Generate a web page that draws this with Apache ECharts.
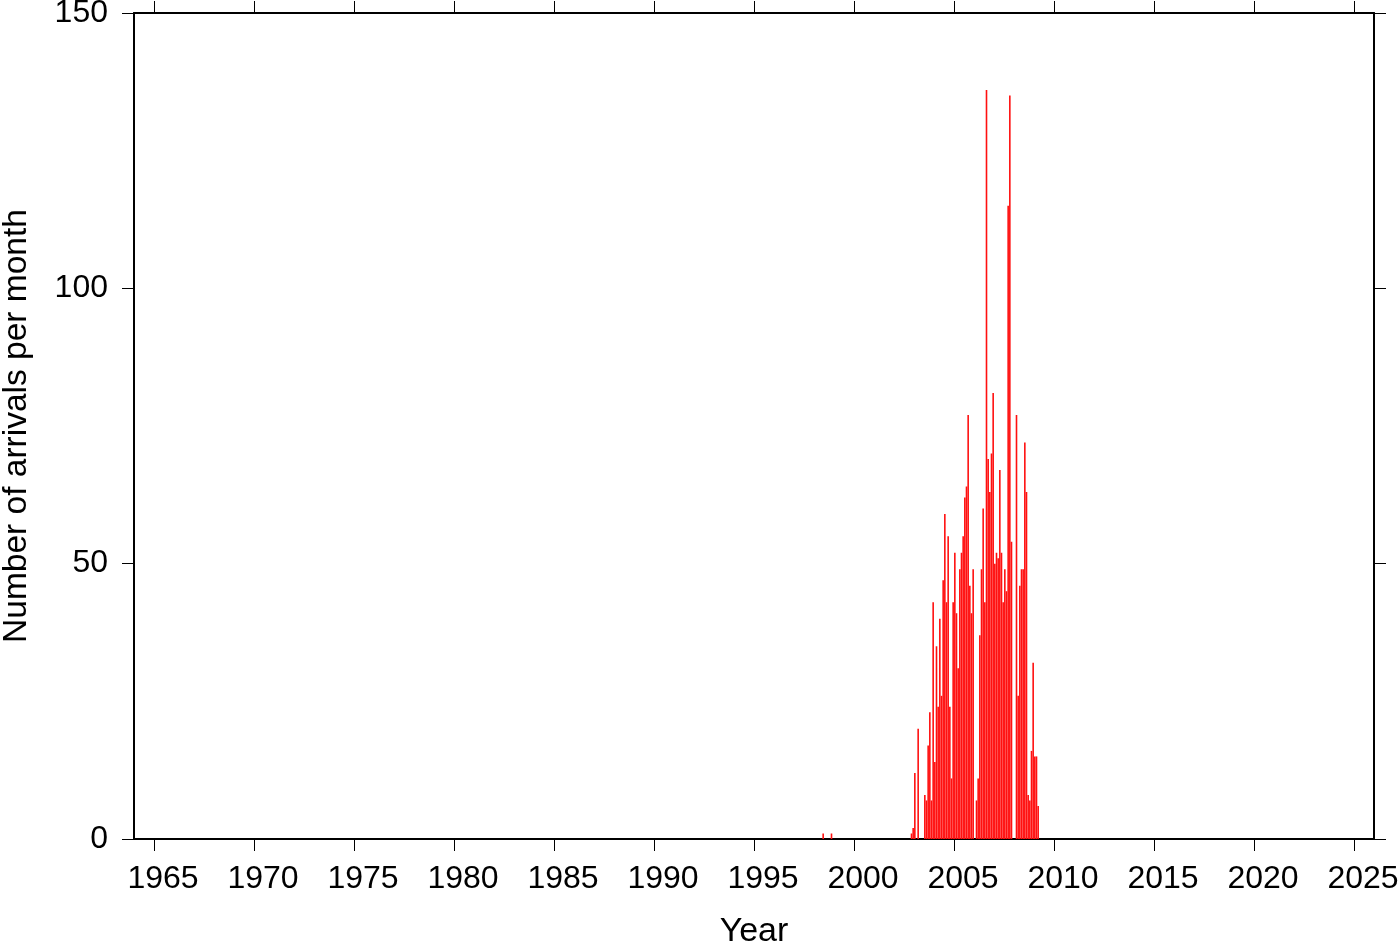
<!DOCTYPE html>
<html>
<head>
<meta charset="utf-8">
<style>
html,body{margin:0;padding:0;background:#fff;}
#chart{width:1400px;height:942px;}
</style>
<script src="https://cdn.jsdelivr.net/npm/echarts@6/dist/echarts.min.js"></script>
</head>
<body>
<div id="chart"></div>
<script>
// Early isolated months
const earlyMonths = ['1998-06', '1998-11'];
const earlyArrivals = [1, 1];

// Continuous monthly record starting Nov 2002
const firstMonth = '2002-11';
const arrivals = [
  1, 2, 12, 0, 20, 0, 0, 0, 8, 7, 17, 23, 7, 43,
  14, 35, 24, 40, 26, 47, 59, 43, 55, 24, 11, 43,
  52, 41, 31, 49, 52, 55, 62, 64, 77, 46, 41, 49,
  0, 7, 11, 37, 49, 60, 43, 136, 69, 63, 70, 81,
  50, 52, 51, 67, 52, 43, 49, 45, 115, 135, 54, 0,
  0, 77, 26, 46, 49, 49, 72, 63, 8, 7, 16, 32,
  15, 15, 6
];

const yearTicks = [1965, 1970, 1975, 1980, 1985, 1990, 1995, 2000, 2005, 2010, 2015, 2020, 2025];
const countTicks = [0, 50, 100, 150];

function monthLabels(start, n) {
  let [y, m] = start.split('-').map(Number);
  const out = [];
  for (let i = 0; i < n; i++) {
    out.push(y + '-' + String(m).padStart(2, '0'));
    m++; if (m > 12) { m = 1; y++; }
  }
  return out;
}
function monthToYear(s) {
  const [y, m] = s.split('-').map(Number);
  return y + (m - 0.5) / 12;
}

const months = earlyMonths.concat(monthLabels(firstMonth, arrivals.length));
const counts = earlyArrivals.concat(arrivals);
const seriesData = months.map((mo, i) => [monthToYear(mo), counts[i]]);

const font = 'Liberation Sans, Arial, Helvetica, sans-serif';
const chart = echarts.init(document.getElementById('chart'), null, {renderer: 'canvas'});

const tickStyle = {show: true, inside: false, length: 12, lineStyle: {color: '#000', width: 1}};
const lineStyle = {show: true, onZero: false, lineStyle: {color: '#000', width: 2}};
const plain = v => String(Math.round(v));

chart.setOption({
  animation: false,
  backgroundColor: '#fff',
  grid: {left: 134, right: 26, top: 13, bottom: 103, containLabel: false, outerBoundsMode: 'none'},
  xAxis: [
    {
      type: 'value', position: 'bottom', min: 1964, max: 2026,
      name: 'Year', nameLocation: 'middle', nameGap: 76,
      nameTextStyle: {fontFamily: font, fontSize: 34, color: '#000'},
      axisLine: lineStyle,
      axisTick: Object.assign({customValues: yearTicks}, tickStyle),
      axisLabel: {customValues: yearTicks, formatter: plain, fontFamily: font, fontSize: 32, color: '#000', margin: 24, padding: [0, 0, 0, 18]},
      splitLine: {show: false}
    },
    {
      type: 'value', position: 'top', min: 1964, max: 2026,
      axisLine: lineStyle,
      axisTick: Object.assign({customValues: yearTicks}, tickStyle),
      axisLabel: {show: false},
      splitLine: {show: false}
    }
  ],
  yAxis: [
    {
      type: 'value', position: 'left', min: 0, max: 150, interval: 50,
      name: 'Number of arrivals per month', nameLocation: 'middle', nameGap: 100,
      nameTextStyle: {fontFamily: font, fontSize: 33.5, color: '#000'},
      axisLine: lineStyle,
      axisTick: Object.assign({customValues: countTicks}, tickStyle),
      axisLabel: {customValues: countTicks, formatter: plain, fontFamily: font, fontSize: 32, color: '#000', margin: 26},
      splitLine: {show: false}
    },
    {
      type: 'value', position: 'right', min: 0, max: 150, interval: 50,
      axisLine: lineStyle,
      axisTick: Object.assign({customValues: countTicks}, tickStyle),
      axisLabel: {show: false},
      splitLine: {show: false}
    }
  ],
  series: [
    {
      type: 'bar',
      xAxisIndex: 0, yAxisIndex: 0,
      data: seriesData,
      barWidth: 1.6,
      itemStyle: {color: '#ff1010'},
      z: 1
    }
  ]
});
</script>
</body>
</html>
